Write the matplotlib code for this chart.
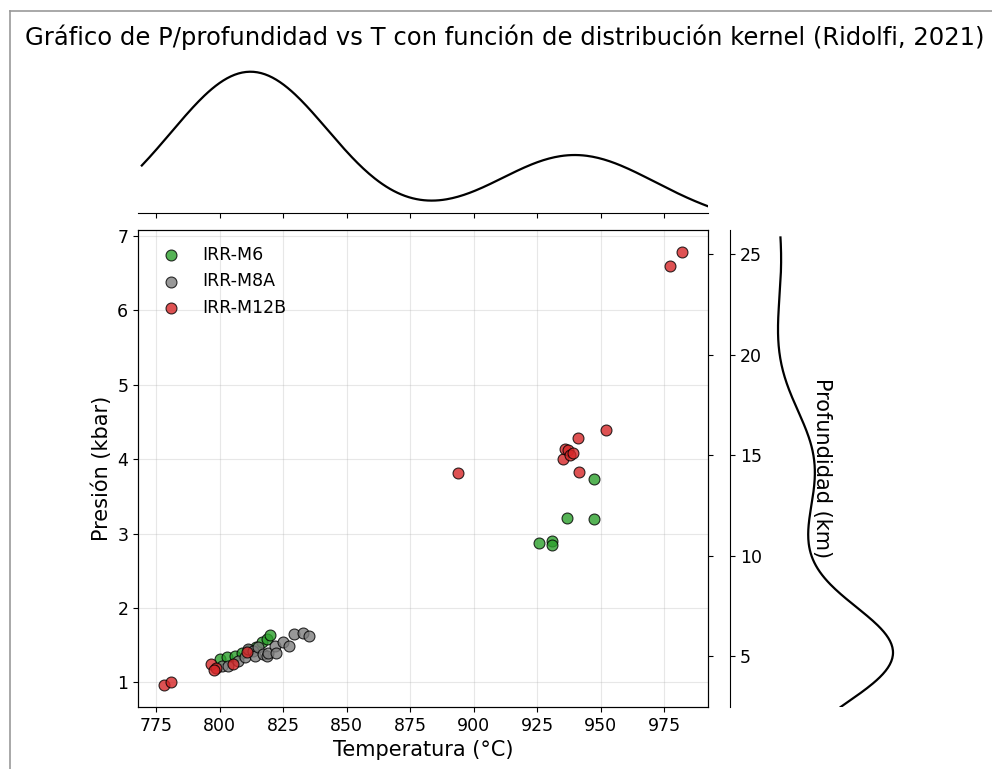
import numpy as np
import matplotlib.pyplot as plt
from matplotlib.lines import Line2D

# IRR-M6
t_m6 = [800.2, 802.8, 806.1, 808.7, 811.6, 814.4, 816.6, 818.6, 819.9,
        925.8, 931.0, 930.8, 936.7, 947.4, 947.4]
p_m6 = [1.31, 1.34, 1.36, 1.39, 1.43, 1.47, 1.54, 1.58, 1.63,
        2.88, 2.90, 2.84, 3.21, 3.20, 3.73]

# IRR-M8A
t_m8a = [800.9, 803.5, 807.4, 810.0, 811.3, 813.3, 814.0, 815.3, 817.2,
         818.6, 819.2, 821.9, 822.2, 824.9, 827.5, 829.1, 832.8, 835.0]
p_m8a = [1.22, 1.22, 1.29, 1.34, 1.45, 1.42, 1.36, 1.47, 1.38,
         1.36, 1.40, 1.49, 1.40, 1.54, 1.49, 1.65, 1.67, 1.62]

# IRR-M12B
t_m12b = [778.1, 780.8, 796.7, 798.6, 797.8, 805.2, 810.7, 894.0, 935.1,
          936.0, 937.3, 938.0, 938.9, 940.9, 941.3, 952.2, 977.4, 982.0]
p_m12b = [0.96, 1.00, 1.25, 1.19, 1.17, 1.24, 1.41, 3.82, 4.00,
          4.14, 4.12, 4.06, 4.09, 4.28, 3.83, 4.39, 6.60, 6.79]

KM_PER_KBAR = 3.7
depth_ticks = [5, 10, 15, 20, 25]


def kde(samples, grid):
    """Gaussian KDE with Scott's bandwidth."""
    samples = np.asarray(samples, dtype=float)
    bw = samples.std(ddof=1) * len(samples) ** (-1 / 5)
    z = (grid[:, None] - samples[None, :]) / bw
    return np.exp(-0.5 * z ** 2).sum(axis=1) / (len(samples) * bw * np.sqrt(2 * np.pi))


W, H = 992, 769
fig = plt.figure(figsize=(W / 100, H / 100), dpi=100)


def box(left, top, right, bottom):
    # pixel box -> figure fraction rect
    return [left / W, 1 - bottom / H, (right - left) / W, (bottom - top) / H]


ax = fig.add_axes(box(138, 230, 708, 707))
ax_top = fig.add_axes(box(138, 65, 708, 213))
ax_right = fig.add_axes(box(730, 230, 990, 707))
ax_depth = fig.add_axes(box(730, 230, 730.1, 707))

# main scatter
series = [('IRR-M6', t_m6, p_m6, 'tab:green'),
          ('IRR-M8A', t_m8a, p_m8a, 'tab:gray'),
          ('IRR-M12B', t_m12b, p_m12b, 'tab:red')]
for name, t, p, c in series:
    ax.scatter(t, p, s=62, color=c, alpha=0.8, edgecolor='black',
               linewidth=0.8, label=name, zorder=3)

ax.set_xticks(np.arange(775, 1000, 25))
ax.set_xlabel('Temperatura (°C)', fontsize=15)
ax.set_ylabel('Presión (kbar)', fontsize=15)
ax.tick_params(labelsize=12.5)
ax.grid(True, alpha=0.3)
ax.legend(loc='upper left', frameon=False, fontsize=12.5)

xlo, xhi = ax.get_xlim()
ylo, yhi = ax.get_ylim()

# depth ticks on the main right spine (no labels)
twin = ax.twinx()
twin.set_ylim(ylo * KM_PER_KBAR, yhi * KM_PER_KBAR)
twin.set_yticks(depth_ticks)
twin.set_yticklabels([])

all_t = np.concatenate([t_m6, t_m8a, t_m12b])
all_p = np.concatenate([p_m6, p_m8a, p_m12b])

# top KDE of temperature
tgrid = np.linspace(xlo + 1.5, xhi, 300)
ax_top.plot(tgrid, kde(all_t, tgrid), color='black', lw=1.6)
ax_top.set_xticks(ax.get_xticks())
ax_top.set_xlim(xlo, xhi)
ax_top.tick_params(labelbottom=False, left=False, labelleft=False)
for side in ['top', 'left', 'right']:
    ax_top.spines[side].set_visible(False)

# right KDE of pressure
pgrid = np.linspace(ylo, yhi - 0.1, 300)
dens = kde(all_p, pgrid)
ax_right.plot(dens, pgrid, color='black', lw=1.6)
span = dens.max() - dens.min()
scale = span / (893 - 778)
ax_right.set_xlim(dens.min() - (778 - 730) * scale, dens.max() + (990 - 893) * scale)
ax_right.set_ylim(ylo, yhi)
ax_right.axis('off')

# depth axis
ax_depth.set_ylim(ylo * KM_PER_KBAR, yhi * KM_PER_KBAR)
ax_depth.set_yticks(depth_ticks)
ax_depth.yaxis.tick_right()
ax_depth.set_xticks([])
ax_depth.patch.set_visible(False)
for side in ['top', 'left', 'bottom']:
    ax_depth.spines[side].set_visible(False)
ax_depth.tick_params(labelsize=12.5)

fig.text(822 / W, 1 - 468 / H, 'Profundidad (km)', rotation=270,
         ha='center', va='center', fontsize=15)

fig.text(505 / W, 1 - 37 / H,
         'Gráfico de P/profundidad vs T con función de distribución kernel (Ridolfi, 2021)',
         ha='center', va='center', fontsize=17.5)

# window border
fig.add_artist(Line2D([9.5 / W, 9.5 / W], [0, 1 - 10.5 / H], color='#999999', lw=1.2))
fig.add_artist(Line2D([9.5 / W, 1], [1 - 10.5 / H, 1 - 10.5 / H], color='#999999', lw=1.2))

fig.savefig('out.png', dpi=100)
